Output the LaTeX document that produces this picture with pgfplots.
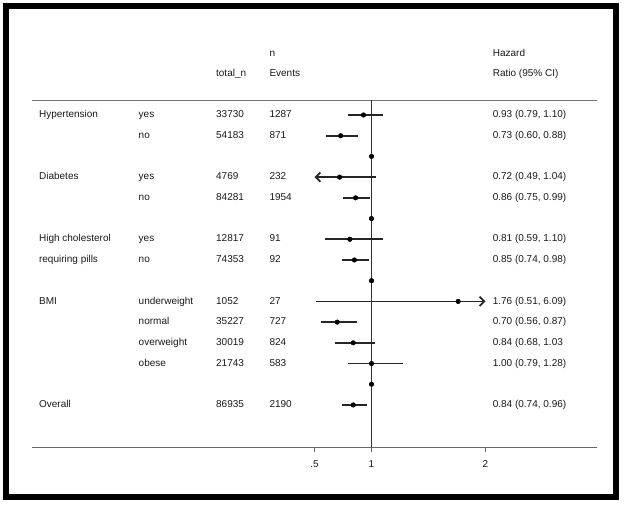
\documentclass[border=0pt]{standalone}
\usepackage{pgfplots}
\pgfplotsset{compat=1.18}
\usepackage{fontspec}
\setmainfont{Liberation Sans}
\usetikzlibrary{arrows.meta}
\newcommand\lab[3]{\node[anchor=mid west,inner sep=0pt,text=black!90] at (axis cs:#1,#2) {#3};}
\begin{document}
\fontsize{7.5pt}{9pt}\selectfont
\begin{tikzpicture}
\path[use as bounding box] (0pt,0pt) rectangle (468pt,378pt);
\draw[line width=4.5pt] (4.5pt,5.6pt) rectangle (462pt,373.5pt);
\begin{axis}[
  at={(24pt,42.75pt)}, anchor=south west,
  scale only axis, width=423.75pt, height=260.25pt,
  xmin=-1.978, xmax=2.978, ymin=-16.03, ymax=0.724,
  axis x line=bottom, axis y line=none,
  axis line style={black!60, line width=0.7pt, -},
  xtick={0.5,1,2}, xticklabels={.5,1,2},
  tick align=outside, major tick length=4pt,
  x tick style={black!60, line width=0.7pt},
  xticklabel style={text=black!90, yshift=-3.5pt},
  clip=false,
  ci/.style={black!85, line width=1.3pt, no marks},
]
% top separator and reference line
\addplot[black!55, line width=0.7pt, no marks] coordinates {(-1.978,0.724) (2.978,0.724)};
\addplot[black!80, line width=0.7pt, no marks] coordinates {(1,0.724) (1,-16.03)};
% confidence intervals
\addplot[ci] coordinates {(0.79,0) (1.10,0)};
\addplot[ci] coordinates {(0.60,-1) (0.88,-1)};
\addplot[ci, arrows={Straight Barb[length=3.5pt,width=7pt]-}] coordinates {(0.50,-3) (1.04,-3)};
\addplot[ci] coordinates {(0.75,-4) (0.99,-4)};
\addplot[ci] coordinates {(0.59,-6) (1.10,-6)};
\addplot[ci] coordinates {(0.74,-7) (0.98,-7)};
\addplot[ci, arrows={-Straight Barb[length=3.5pt,width=7pt]}] coordinates {(0.51,-9) (2.00,-9)};
\addplot[ci] coordinates {(0.56,-10) (0.87,-10)};
\addplot[ci] coordinates {(0.68,-11) (1.03,-11)};
\addplot[ci] coordinates {(0.79,-12) (1.28,-12)};
\addplot[ci] coordinates {(0.74,-14) (0.96,-14)};
% point estimates
\addplot[only marks, mark=*, mark size=1.7pt, black] coordinates {
 (0.93,0) (0.73,-1) (1,-2) (0.72,-3) (0.86,-4) (1,-5) (0.81,-6) (0.85,-7)
 (1,-8) (1.76,-9) (0.70,-10) (0.84,-11) (1.00,-12) (1,-13) (0.84,-14)};
% headers
\lab{0.103}{2.95}{n}
\lab{-0.365}{2.0}{total\_n}
\lab{0.103}{2.0}{Events}
\lab{2.062}{2.95}{Hazard}
\lab{2.062}{2.0}{Ratio (95\% CI)}
% rows
\lab{-1.918}{0}{Hypertension}   \lab{-1.044}{0}{yes}  \lab{-0.365}{0}{33730} \lab{0.103}{0}{1287} \lab{2.062}{0}{0.93 (0.79, 1.10)}
\lab{-1.044}{-1}{no}  \lab{-0.365}{-1}{54183} \lab{0.103}{-1}{871} \lab{2.062}{-1}{0.73 (0.60, 0.88)}
\lab{-1.918}{-3}{Diabetes}   \lab{-1.044}{-3}{yes}  \lab{-0.365}{-3}{4769} \lab{0.103}{-3}{232} \lab{2.062}{-3}{0.72 (0.49, 1.04)}
\lab{-1.044}{-4}{no}  \lab{-0.365}{-4}{84281} \lab{0.103}{-4}{1954} \lab{2.062}{-4}{0.86 (0.75, 0.99)}
\lab{-1.918}{-6}{High cholesterol}   \lab{-1.044}{-6}{yes}  \lab{-0.365}{-6}{12817} \lab{0.103}{-6}{91} \lab{2.062}{-6}{0.81 (0.59, 1.10)}
\lab{-1.918}{-7}{requiring pills}   \lab{-1.044}{-7}{no}  \lab{-0.365}{-7}{74353} \lab{0.103}{-7}{92} \lab{2.062}{-7}{0.85 (0.74, 0.98)}
\lab{-1.918}{-9}{BMI}   \lab{-1.044}{-9}{underweight}  \lab{-0.365}{-9}{1052} \lab{0.103}{-9}{27} \lab{2.062}{-9}{1.76 (0.51, 6.09)}
\lab{-1.044}{-10}{normal}  \lab{-0.365}{-10}{35227} \lab{0.103}{-10}{727} \lab{2.062}{-10}{0.70 (0.56, 0.87)}
\lab{-1.044}{-11}{overweight}  \lab{-0.365}{-11}{30019} \lab{0.103}{-11}{824} \lab{2.062}{-11}{0.84 (0.68, 1.03}
\lab{-1.044}{-12}{obese}  \lab{-0.365}{-12}{21743} \lab{0.103}{-12}{583} \lab{2.062}{-12}{1.00 (0.79, 1.28)}
\lab{-1.918}{-14}{Overall}  \lab{-0.365}{-14}{86935} \lab{0.103}{-14}{2190} \lab{2.062}{-14}{0.84 (0.74, 0.96)}
\end{axis}
\end{tikzpicture}
\end{document}
